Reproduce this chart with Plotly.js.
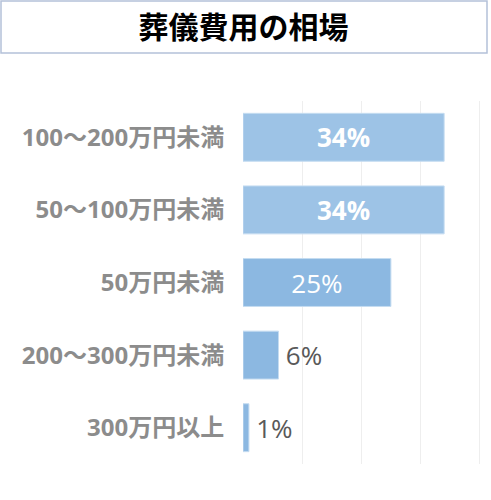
<!DOCTYPE html>
<html>
<head>
<meta charset="utf-8">
<script src="https://cdn.plot.ly/plotly-3.0.1.min.js"></script>
<style>
  html, body { margin: 0; padding: 0; background: #fff; }
  #chart { width: 491px; height: 500px; }
</style>
</head>
<body>
<div id="chart"></div>
<script>
// Chart values (percent), top to bottom
const categories = ["100〜200万円未満", "50〜100万円未満", "50万円未満", "200〜300万円未満", "300万円以上"];
const shares = [34, 34, 25, 6, 1];
const barColors = ["#9dc3e6", "#9dc3e6", "#8cb8e1", "#8cb8e1", "#8cb8e1"];
const labelPositions = ["inside", "inside", "inside", "outside", "outside"];
const boldLabels = [true, true, false, false, false];

const jpFont = "'Open Sans', 'Noto Sans CJK JP', sans-serif";

// Top two labels are bold in the reference, outside ones sit a bit off the bar
const labels = shares.map((v, i) => {
    if (boldLabels[i]) return `<b>${v}%</b>`;
    return labelPositions[i] === "outside" ? `\u2009${v}%` : `${v}%`;
});

const trace = {
    type: "bar",
    orientation: "h",
    x: shares,
    y: categories,
    text: labels,
    texttemplate: "%{text}",
    textposition: labelPositions,
    insidetextanchor: "middle",
    insidetextfont: { family: jpFont, size: 26, color: "#ffffff" },
    outsidetextfont: { family: jpFont, size: 26, color: "#595959" },
    cliponaxis: false,
    marker: {
        color: barColors,
        line: { color: "#c5dcf1", width: 1 }
    },
    hoverinfo: "skip"
};

const layout = {
    width: 491,
    height: 500,
    margin: { l: 243, r: 9, t: 101, b: 36 },
    paper_bgcolor: "#ffffff",
    plot_bgcolor: "#ffffff",
    showlegend: false,
    bargap: 0.34,
    title: {
        text: "<b>葬儀費用の相場</b>",
        font: { family: "'Noto Sans CJK JP', sans-serif", size: 30, color: "#000000" },
        x: 243.5 / 491,
        xanchor: "center",
        xref: "container",
        y: 1 - 27 / 500,
        yref: "container",
        yanchor: "middle"
    },
    xaxis: {
        range: [0, 40.4],
        dtick: 10,
        showticklabels: false,
        showgrid: true,
        gridcolor: "#eeeeee",
        gridwidth: 1,
        zeroline: false,
        showline: false,
        fixedrange: true
    },
    yaxis: {
        autorange: "reversed",
        ticks: "outside",
        ticklen: 13,
        tickcolor: "rgba(0,0,0,0)",
        tickfont: { family: jpFont, size: 24, color: "#8c8c8c", weight: "bold" },
        showgrid: false,
        zeroline: false,
        showline: false,
        fixedrange: true
    },
    shapes: [
        {
            // title frame
            type: "rect",
            xref: "paper",
            yref: "paper",
            x0: (1 - 243) / 239,
            x1: (487 - 243) / 239,
            y0: (464 - 53) / 363,
            y1: (464 - 1) / 363,
            line: { color: "#b4c1d9", width: 1.5 },
            fillcolor: "rgba(0,0,0,0)"
        }
    ]
};

Plotly.newPlot("chart", [trace], layout, { displayModeBar: false, staticPlot: true });
</script>
</body>
</html>
